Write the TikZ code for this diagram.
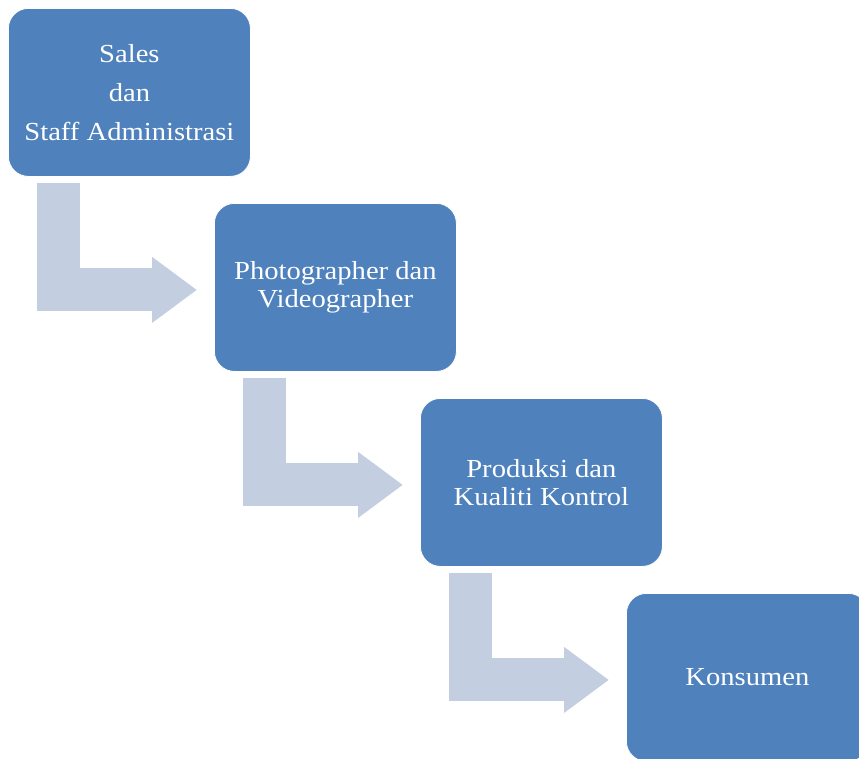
\documentclass[tikz,border=0pt]{standalone}
\usepackage{fontspec}
\setmainfont{Liberation Serif}[FakeStretch=1.1]
\usetikzlibrary{arrows.meta,calc}
\definecolor{boxblue}{HTML}{4F81BD}
\definecolor{flowgray}{HTML}{C4CEE1}
\tikzset{
  stagebox/.style={draw=white, line width=0.8pt, fill=boxblue, rounded corners=20pt,
    minimum width=242pt, minimum height=168pt, text=white, align=center,
    font=\fontsize{26}{28}\selectfont, inner sep=0pt, anchor=north west},
  flow/.style={draw=flowgray, line width=43pt, line join=miter,
    -{Triangle[length=45pt,width=63pt]}}
}
\begin{document}
\begin{tikzpicture}[x=1pt,y=-1pt]
\useasboundingbox (0,0) rectangle (859,758);
\begin{scope}
\clip (0,0) rectangle (859,758);
\node[stagebox] (b1) at (8,8) {Sales\\[11pt]dan\\[11pt]Staff Administrasi};
\node[stagebox] (b2) at (214,203) {Photographer dan\\Videographer};
\node[stagebox] (b3) at (420,398) {Produksi dan\\Kualiti Kontrol};
\node[stagebox] (b4) at (626,593) {Konsumen};
\end{scope}
\draw[flow] ($(b1.south west)+(50.5,6)$) |- ($(b2.west)+(-17,2.5)$);
\draw[flow] ($(b2.south west)+(50.5,6)$) |- ($(b3.west)+(-17,2.5)$);
\draw[flow] ($(b3.south west)+(50.5,6)$) |- ($(b4.west)+(-17,2.5)$);
\end{tikzpicture}
\end{document}
